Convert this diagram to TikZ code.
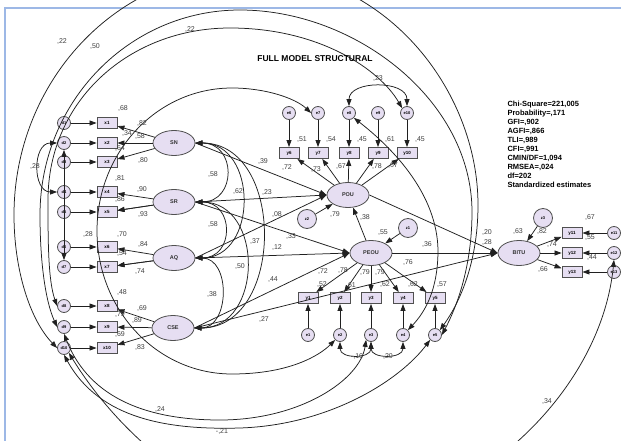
\documentclass[tikz,border=0pt]{standalone}
\usepackage{fontspec}
\setmainfont{Liberation Sans}
\usetikzlibrary{arrows.meta,shapes.geometric}
\definecolor{lav}{HTML}{E6DEF2}
\definecolor{edge}{HTML}{505050}
\definecolor{frameblue}{HTML}{9DB8E6}
\definecolor{ink}{HTML}{202020}
\definecolor{num}{HTML}{404040}
\begin{document}
\begin{tikzpicture}[x=1pt,y=-1pt,
  >={Triangle[length=7pt,width=5pt]},
  lat/.style={ellipse,draw=edge,fill=lav,line width=0.8pt,minimum width=42pt,minimum height=25pt,inner sep=0pt,font=\bfseries\fontsize{5.5}{6}\selectfont,text=black!80},
  obs/.style={rectangle,draw=edge,fill=lav,line width=0.9pt,minimum width=20pt,minimum height=11pt,inner sep=0pt,font=\bfseries\fontsize{4.5}{5}\selectfont},
  err/.style={circle,draw=edge,fill=lav,line width=0.8pt,minimum size=13pt,inner sep=0pt,font=\bfseries\fontsize{4}{5}\selectfont},
  dist/.style={err,minimum size=19pt},
  reg/.style={->,line width=0.75pt,draw=ink},
  cov/.style={<->,line width=0.75pt,draw=ink},
  val/.style={font=\fontsize{7}{8}\selectfont,text=num,inner sep=0pt},
]
\useasboundingbox (0,0) rectangle (621,441);
\fill[white] (0,0) rectangle (621,441);
\draw[frameblue,line width=1.6pt] (5,441) -- (5,8) -- (621,8);

% latent variables
\node[lat] (SN)   at (174,143) {SN};
\node[lat] (SR)   at (174,202) {SR};
\node[lat] (AQ)   at (174,258) {AQ};
\node[lat] (CSE)  at (173,328) {CSE};
\node[lat] (POU)  at (348,195) {POU};
\node[lat] (PEOU) at (371,253) {PEOU};
\node[lat] (BITU) at (519,253) {BITU};

% exogenous indicators and their errors
\foreach \i/\yy in {1/123,2/143,3/162,4/192,5/212,6/247,7/267,8/306,9/327,10/348}{
  \node[obs] (x\i) at (107,\yy) {x\i};
  \node[err] (d\i) at (64,\yy) {d\i};
  \draw[reg] (d\i) -- (x\i);
}
% POU indicators
\foreach \i/\xx in {6/289,7/318,8/349,9/378,10/407}{
  \node[obs] (y\i) at (\xx,153) {y\i};
  \node[err] (e\i) at (\xx,113) {e\i};
  \draw[reg] (e\i) -- (y\i);
  \draw[reg] (POU) -- (y\i);
}
% PEOU indicators
\foreach \i/\xx in {1/308,2/340,3/371,4/403,5/435}{
  \node[obs] (y\i) at (\xx,298) {y\i};
  \node[err] (e\i) at (\xx,335) {e\i};
  \draw[reg] (e\i) -- (y\i);
  \draw[reg] (PEOU) -- (y\i);
}
% BITU indicators
\foreach \i/\yy in {11/233,12/253,13/272}{
  \node[obs] (y\i) at (572,\yy) {y\i};
  \node[err] (e\i) at (614,\yy) {e\i};
  \draw[reg] (e\i) -- (y\i);
  \draw[reg] (BITU) -- (y\i);
}
% disturbances
\node[dist] (z1) at (408,228) {z1};
\node[dist] (z2) at (307,219) {z2};
\node[dist] (z3) at (543,218) {z3};

% measurement loadings of the exogenous factors
\foreach \f/\a/\b/\c in {SN/1/2/3,SR/4/5/5,AQ/6/7/7,CSE/8/9/10}{
  \draw[reg] (\f) -- (x\a);
  \draw[reg] (\f) -- (x\b);
  \draw[reg] (\f) -- (x\c);
}

% structural paths
\draw[reg] (SN.east) -- (POU.west);
\draw[reg] (SR.east) -- (POU.west);
\draw[reg] (AQ.east) -- (POU.west);
\draw[reg] (SR.east) -- (PEOU.west);
\draw[reg] (AQ.east) -- (PEOU.west);
\draw[reg] (CSE.east) -- (PEOU.west);
\draw[reg] (CSE.east) -- (BITU.west);
\draw[reg] (PEOU) -- (POU);
\draw[reg] (PEOU) -- (BITU);
\draw[reg] (POU.east) -- (BITU.west);
\draw[reg] (z1) -- (PEOU);
\draw[reg] (z2) -- (POU);
\draw[reg] (z3) -- (BITU);

% correlations among exogenous factors
\draw[cov] (SN.east) to[out=0,in=0,looseness=1.8] (SR.east);
\draw[cov] (SN.east) to[out=0,in=0,looseness=1.4] (AQ.east);
\draw[cov] (SN.east) to[out=0,in=0,looseness=1.25] (CSE.east);
\draw[cov] (SR.east) to[out=0,in=0,looseness=1.8] (AQ.east);
\draw[cov] (SR.east) to[out=0,in=0,looseness=1.4] (CSE.east);
\draw[cov] (AQ.east) to[out=0,in=0,looseness=1.3] (CSE.east);

% local error covariances
\draw[cov] (d2.west) to[out=180,in=180,looseness=1.3] (d4.west);
\draw[cov] (d2) -- (d7);
\draw[cov] (e8.north) .. controls (349,80) and (407,80) .. (e10.north);
\draw[cov] (e2.south) .. controls (340,359) and (371,359) .. (e3.south);
\draw[cov] (e3.south) .. controls (371,359) and (403,359) .. (e4.south);

% long error covariances
\draw[cov] (d10.west) .. controls (30,320) and (14,270) .. (14,215)
  .. controls (14,83) and (115,-30) .. (250,-30)
  .. controls (385,-30) and (478,90) .. (478,205)
  .. controls (478,265) and (458,305) .. (e5.north east);
\draw[cov] (d9.west) .. controls (45,300) and (40,260) .. (40,215)
  .. controls (40,101) and (130,10) .. (240,10)
  .. controls (355,10) and (472,100) .. (472,212)
  .. controls (472,270) and (455,310) .. (e5.east);
\draw[cov] (d8.west) .. controls (48,280) and (48,240) .. (48,200)
  .. controls (48,100) and (130,28) .. (230,28)
  .. controls (320,28) and (380,70) .. (e10.north west);
\draw[cov] (e7.west) .. controls (295,98) and (265,88) .. (232,88)
  .. controls (157,88) and (97,152) .. (97,231)
  .. controls (97,310) and (157,374) .. (232,374)
  .. controls (290,374) and (320,355) .. (e2.south west);
\draw[cov] (e8.south east) .. controls (395,150) and (437,195) .. (438,250)
  .. controls (438,290) and (425,312) .. (e4.north east);
\draw[cov] (d9.south) .. controls (90,400) and (150,420) .. (220,420)
  .. controls (300,420) and (360,380) .. (e3.south west);
\draw[cov] (d10.south) .. controls (100,420) and (170,430) .. (240,428)
  .. controls (330,425) and (400,380) .. (e5.south west);
\draw[cov] (d10.south east) .. controls (110,420) and (200,520) .. (330,520)
  .. controls (460,520) and (600,400) .. (e12.south);

% titles
\node[font=\bfseries\fontsize{8.5}{10}\selectfont] (title) at (315,59) {FULL MODEL STRUCTURAL};
\node[anchor=north west,align=left,font=\bfseries\fontsize{7.5}{9}\selectfont] (fit) at (504,98)
 {Chi-Square=221,005\\Probability=,171\\GFI=,902\\AGFI=,866\\TLI=,989\\CFI=,991\\CMIN/DF=1,094\\RMSEA=,024\\df=202\\Standardized estimates};

% estimates
\foreach [count=\k] \xx/\yy/\t in {
 123/109/{,68},142/124/{,82},127/134/{,34},140/137/{,58},120/149/{,64},143/161/{,80},
 120/179/{,81},142/190/{,90},120/200/{,86},143/215/{,93},
 122/235/{,70},143/245/{,84},122/254/{,54},140/272/{,74},
 88/235/{,28},35/167/{,28},
 122/293/{,48},142/309/{,69},120/315/{,79},137/321/{,89},120/335/{,69},140/348/{,83},
 213/175/{,58},238/192/{,62},213/225/{,58},255/242/{,37},240/267/{,50},212/295/{,38},
 263/162/{,39},267/193/{,23},277/215/{,08},291/237/{,33},277/248/{,12},273/280/{,44},264/320/{,27},
 335/215/{,79},365/218/{,38},383/233/{,55},
 302/140/{,51},331/140/{,54},362/140/{,45},390/140/{,61},420/140/{,45},
 287/168/{,72},316/170/{,73},341/167/{,67},377/167/{,78},393/166/{,67},
 378/79/{,23},
 323/272/{,72},343/271/{,78},365/273/{,79},380/273/{,79},408/263/{,76},
 322/285/{,52},351/286/{,61},385/285/{,62},413/285/{,62},442/285/{,57},
 357/357/{-,16},388/357/{,20},427/245/{,36},
 518/232/{,63},542/232/{,82},552/245/{,74},543/270/{,66},590/218/{,67},590/238/{,55},592/258/{,44},
 62/42/{,22},95/47/{,50},190/30/{,22},
 160/410/{,24},222/432/{-,21},547/402/{,34},
 487/233/{,20},487/243/{,28}}
 {\node[val] (v\k) at (\xx,\yy) {\t};}
\end{tikzpicture}
\end{document}
